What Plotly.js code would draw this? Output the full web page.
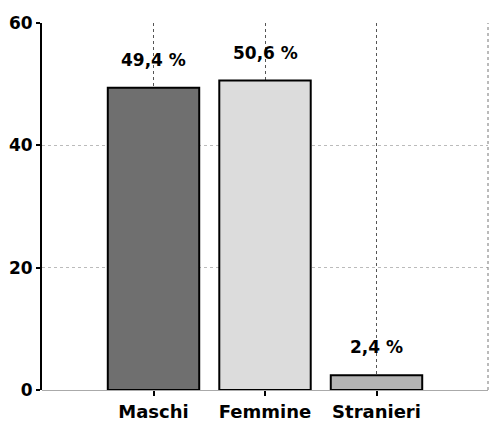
<!DOCTYPE html>
<html>
<head>
<meta charset="utf-8">
<script src="https://cdn.plot.ly/plotly-3.0.1.min.js"></script>
<style>html,body{margin:0;padding:0;background:#fff;}#chart{width:491px;height:423px;}</style>
</head>
<body>
<div id="chart"></div>
<script>
const categories = ["Maschi", "Femmine", "Stranieri"];
const values = [49.4, 50.6, 2.4];
const valueLabels = ["49,4 %", "50,6 %", "2,4 %"];
const barColors = ["#6f6f6f", "#dcdcdc", "#b4b4b4"];
const yTicks = [0, 20, 40, 60];

const FONT = "DejaVu Sans, Arial, sans-serif";

const trace = {
  type: "bar",
  x: [0, 1, 2],
  y: values,
  width: 0.82,
  marker: { color: barColors, line: { color: "#000", width: 2 } },
  hoverinfo: "skip"
};

const annotations = values.map((v, i) => ({
  x: i, y: v, xref: "x", yref: "y",
  text: valueLabels[i], showarrow: false,
  yanchor: "bottom", yshift: 16,
  font: { family: FONT, size: 17, color: "#000", weight: "bold" }
}));

const layout = {
  width: 491, height: 423,
  margin: { l: 42, r: 3, t: 23, b: 33 },
  paper_bgcolor: "#fff", plot_bgcolor: "#fff",
  showlegend: false,
  xaxis: {
    range: [-1, 3],
    tickmode: "array", tickvals: [0, 1, 2], ticktext: categories,
    showgrid: true, gridcolor: "#555", griddash: "dot", gridwidth: 1,
    zeroline: false, showline: false,
    ticks: "outside", ticklen: 5, tickwidth: 2, tickcolor: "#000",
    tickfont: { family: FONT, size: 18, color: "#000", weight: "bold" },
    fixedrange: true
  },
  yaxis: {
    range: [0, 60],
    tickmode: "array", tickvals: yTicks, ticktext: yTicks.map(String),
    showgrid: true, gridcolor: "#bbb", griddash: "dot", gridwidth: 1,
    zeroline: true, zerolinecolor: "#aaa", zerolinewidth: 1,
    showline: true, linecolor: "#000", linewidth: 2,
    ticks: "outside", ticklen: 4, tickwidth: 2, tickcolor: "#000",
    tickfont: { family: FONT, size: 17, color: "#000", weight: "bold" },
    fixedrange: true
  },
  shapes: [
    { type: "line", xref: "paper", yref: "paper", x0: 1, x1: 1, y0: 0, y1: 1,
      line: { color: "#777", width: 1, dash: "dot" } }
  ],
  annotations: annotations
};

Plotly.newPlot("chart", [trace], layout, { displayModeBar: false, staticPlot: true });
</script>
</body>
</html>
